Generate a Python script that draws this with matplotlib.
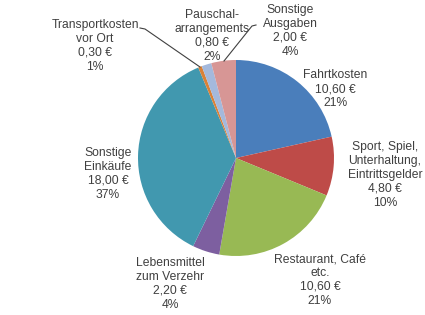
import matplotlib
matplotlib.use("Agg")
import matplotlib.pyplot as plt

categories = ["Fahrtkosten", "Sport, Spiel,\nUnterhaltung,\nEintrittsgelder", "Restaurant, Café\netc.",
              "Lebensmittel\nzum Verzehr", "Sonstige\nEinkäufe", "Transportkosten\nvor Ort",
              "Pauschal-\narrangements", "Sonstige\nAusgaben"]
values = [10.60, 4.80, 10.60, 2.20, 18.00, 0.30, 0.80, 2.00]
percents = [21, 10, 21, 4, 37, 1, 2, 4]
colors = ["#4A7EBB", "#BE4B48", "#98B954", "#7D5FA0", "#4198AF", "#DA8137", "#A4B9DC", "#D79695"]

W, H = 425, 315
cx, cy, R = 236, 158, 98

plt.rcParams["font.family"] = ["Liberation Sans", "DejaVu Sans"]

fig = plt.figure(figsize=(W / 100, H / 100), dpi=100)
ax = fig.add_axes([(cx - R) / W, (H - cy - R) / H, 2 * R / W, 2 * R / H])
ax.pie(values, colors=colors, startangle=90, counterclock=False, radius=1,
       wedgeprops=dict(linewidth=0))
ax.set_xlim(-1, 1)
ax.set_ylim(-1, 1)
ax.set_aspect("equal")
ax.axis("off")

def d(px, py):
    return ((px - cx) / R, (cy - py) / R)

label_pos = [(335, 89), (385, 175), (320, 280), (170, 284), (108, 174), (95, 46), (212, 36), (290, 31)]
for name, v, p, (px, py) in zip(categories, values, percents, label_pos):
    val = f"{v:.2f}".replace(".", ",")
    txt = f"{name}\n{val} €\n{p}%"
    x, y = d(px, py)
    ax.text(x, y, txt, ha="center", va="center", fontsize=8.7, color="#404040",
            linespacing=1.2, clip_on=False)

# leader lines
for pts in [[(140, 28), (145, 29), (200, 67)], [(256, 25), (252, 26), (224, 61)]]:
    xs, ys = zip(*[d(*q) for q in pts])
    ax.plot(xs, ys, color="#404040", lw=0.8, clip_on=False)

fig.savefig("out.png", dpi=100, facecolor="white")
